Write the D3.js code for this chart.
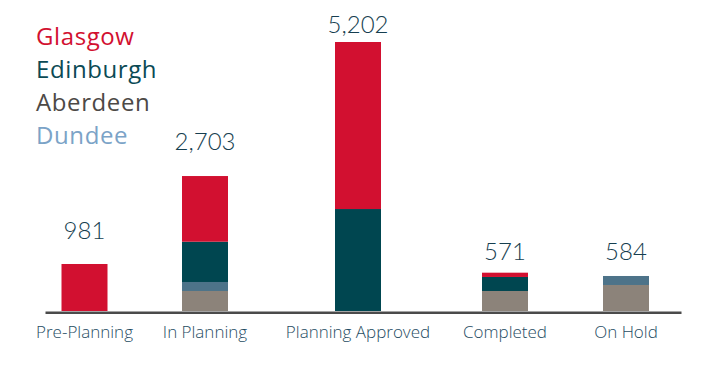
<!DOCTYPE html>
<html>
<head>
<meta charset="utf-8">
<script src="https://cdn.jsdelivr.net/npm/d3@7"></script>
<style>
  html, body { margin: 0; padding: 0; background: #ffffff; }
  svg { display: block; }
</style>
</head>
<body>
<script>
// ---- Data ----
const categories = ["Pre-Planning", "In Planning", "Planning Approved", "Completed", "On Hold"];
const cities = ["Aberdeen", "Dundee", "Edinburgh", "Glasgow"]; // stack order bottom -> top
const legendOrder = ["Glasgow", "Edinburgh", "Aberdeen", "Dundee"];
const glasgow   = [909, 1270, 3230, 83, 0];
const edinburgh = [0, 779, 1972, 271, 0];
const aberdeen  = [0, 387, 0, 387, 503];
const dundee    = [0, 174, 0, 0, 174];
const totals    = [981, 2703, 5202, 571, 584];
const totalLabels = ["981", "2,703", "5,202", "571", "584"];

// ---- Layout ----
const W = 709, H = 382;
const baseY = 311, topY = 42;
const barW = 46;
const xCenters = [84.5, 205, 358, 505, 626];

const barColors = { Glasgow: "#d21030", Edinburgh: "#004650", Dundee: "#4d7389", Aberdeen: "#8c837a" };
const textColors = { Glasgow: "#d21030", Edinburgh: "#0b4a55", Aberdeen: "#4d4946", Dundee: "#7ba3c7" };

const table = categories.map((c, i) => ({
  category: c,
  Glasgow: glasgow[i], Edinburgh: edinburgh[i], Aberdeen: aberdeen[i], Dundee: dundee[i],
  total: totals[i], label: totalLabels[i]
}));

const x = d3.scaleOrdinal().domain(categories).range(xCenters);
const y = d3.scaleLinear().domain([0, d3.max(totals)]).range([baseY, topY]);

const svg = d3.select("body").append("svg").attr("width", W).attr("height", H);

const series = d3.stack().keys(cities)(table);

svg.append("g").selectAll("g").data(series).join("g")
  .attr("fill", s => barColors[s.key])
  .selectAll("rect").data(s => s.filter(d => d[1] > d[0])).join("rect")
  .attr("x", d => x(d.data.category) - barW / 2)
  .attr("width", barW)
  .attr("y", d => y(d[1]))
  .attr("height", d => y(d[0]) - y(d[1]));

// Axis baseline
const xAxis = d3.axisBottom(d3.scaleLinear().domain([0, 1]).range([45, 681])).ticks(0).tickSize(0).tickFormat("");
const axisG = svg.append("g").attr("transform", `translate(0,${baseY + 1.2})`).call(xAxis);
axisG.select(".domain").attr("stroke", "#4b4b4b").attr("stroke-width", 2.5);

// Category labels
svg.append("g").selectAll("text").data(categories).join("text")
  .attr("x", d => x(d))
  .attr("y", 338)
  .attr("text-anchor", "middle")
  .attr("font-family", "'Open Sans', Lato, sans-serif")
  .attr("font-weight", 300)
  .attr("font-size", 17)
  .attr("fill", "#1f4d63")
  .text(d => d);

// Total labels
svg.append("g").selectAll("text").data(table).join("text")
  .attr("x", d => x(d.category))
  .attr("y", d => Math.max(y(d.total) - 21, topY - 9))
  .attr("text-anchor", "middle")
  .attr("font-family", "Lato, 'Open Sans', sans-serif")
  .attr("font-weight", 300)
  .attr("font-size", 24)
  .attr("fill", "#163e50")
  .text(d => d.label);

// Legend
svg.append("g").selectAll("text").data(legendOrder).join("text")
  .attr("x", 36)
  .attr("y", (d, i) => 45 + i * 33)
  .attr("font-family", "'Open Sans', Lato, sans-serif")
  .attr("font-weight", 400)
  .attr("font-size", 24)
  .attr("letter-spacing", 0.6)
  .attr("fill", d => textColors[d])
  .text(d => d);
</script>
</body>
</html>
